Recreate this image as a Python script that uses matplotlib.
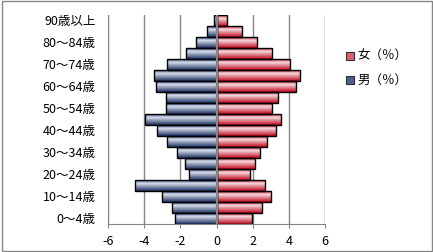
#! /usr/bin/env python

# import modules
import numpy
import matplotlib
matplotlib.use('Agg')
import matplotlib.pyplot
from matplotlib.colors import LinearSegmentedColormap
from matplotlib.patches import Patch, Rectangle

# data (percent of population by age group)
# -----------------------------------------
age_groups = ['0～4歳', '5～9歳', '10～14歳', '15～19歳', '20～24歳', '25～29歳',
              '30～34歳', '35～39歳', '40～44歳', '45～49歳', '50～54歳', '55～59歳',
              '60～64歳', '65～69歳', '70～74歳', '75～79歳', '80～84歳', '85～89歳',
              '90歳以上']
male = [2.29, 2.45, 3.00, 4.53, 1.51, 1.73, 2.21, 2.73, 3.28, 3.94,
        2.78, 2.78, 3.34, 3.45, 2.73, 1.68, 1.16, 0.52, 0.13]
female = [1.98, 2.52, 3.02, 2.69, 1.85, 2.13, 2.41, 2.80, 3.29, 3.57,
          3.07, 3.40, 4.40, 4.62, 4.07, 3.07, 2.24, 1.42, 0.59]
xticks = [-6, -4, -2, 0, 2, 4, 6]
xticklabels = ['-6', '-4', '-2', '0', '2', '4', '6']
label_female = '女（％）'
label_male = '男（％）'

matplotlib.pyplot.rcParams['font.family'] = ['Noto Sans CJK JP', 'DejaVu Sans']
matplotlib.pyplot.rcParams['axes.unicode_minus'] = False

grid_color = '#868686'

# gradient colour maps (top -> bottom of each bar)
# ------------------------------------------------
red_cmap = LinearSegmentedColormap.from_list(
    'red_grad', [(0.0, '#d42a3c'), (0.3, '#f4dbe0'), (1.0, '#c0081c')])
blue_cmap = LinearSegmentedColormap.from_list(
    'blue_grad', [(0.0, '#3a5288'), (0.3, '#d8dfec'), (1.0, '#1c2f60')])
grad = numpy.linspace(0, 1, 64).reshape(-1, 1)


def gradient_bars(ax, bars, cmap):
    for b in bars:
        x, y = b.get_x(), b.get_y()
        w, h = b.get_width(), b.get_height()
        ax.imshow(grad, cmap=cmap, aspect='auto', origin='upper',
                  extent=[x, x + w, y, y + h], zorder=2, interpolation='bilinear')
    return


fig = matplotlib.pyplot.figure(figsize=(4.33, 2.52), dpi=100)
ax = fig.add_axes([108/433, 28/252, 217/433, 209/252])

pos = numpy.arange(len(age_groups))
mbars = ax.barh(pos, -numpy.array(male), height=1.0, facecolor='none',
                edgecolor='black', linewidth=1.0, zorder=3)
fbars = ax.barh(pos, female, height=1.0, facecolor='none',
                edgecolor='black', linewidth=1.0, zorder=3)
gradient_bars(ax, mbars, blue_cmap)
gradient_bars(ax, fbars, red_cmap)

# axes options
# ------------
ax.set_xlim(-6, 6)
ax.set_ylim(-0.5, len(age_groups) - 0.5)
ax.set_xticks(xticks)
ax.set_xticklabels(xticklabels, fontsize=9)
ax.set_yticks(pos[::2])
ax.set_yticklabels(age_groups[::2], fontsize=9)
ax.tick_params(axis='y', length=0, pad=9)
ax.tick_params(axis='x', length=3, color=grid_color, pad=5, direction='out')
[ax.axvline(v, color=grid_color, linewidth=1.0, zorder=1) for v in xticks]
ax.axvline(0, color=grid_color, linewidth=1.6, zorder=4)
for side in ['top', 'right']:
    ax.spines[side].set_visible(False)
ax.spines['left'].set_color(grid_color)
ax.spines['bottom'].set_color(grid_color)

# legend
# ------
handles = [Patch(facecolor='#e06070', edgecolor='#303030', linewidth=0.8, label=label_female),
           Patch(facecolor='#4a5f90', edgecolor='#303030', linewidth=0.8, label=label_male)]
fig.legend(handles=handles, loc='upper left', bbox_to_anchor=(346/433, 1 - 50/252),
           bbox_transform=fig.transFigure, frameon=False, fontsize=9,
           handlelength=0.6, handleheight=0.6, handletextpad=0.3,
           labelspacing=0.9, borderpad=0, borderaxespad=0)

# outer border
fig.add_artist(Rectangle((1.5/433, 1.5/252), 430/433, 250/252, transform=fig.transFigure,
                         fill=False, edgecolor=grid_color, linewidth=1.0))

fig.savefig('out.png', dpi=100)
